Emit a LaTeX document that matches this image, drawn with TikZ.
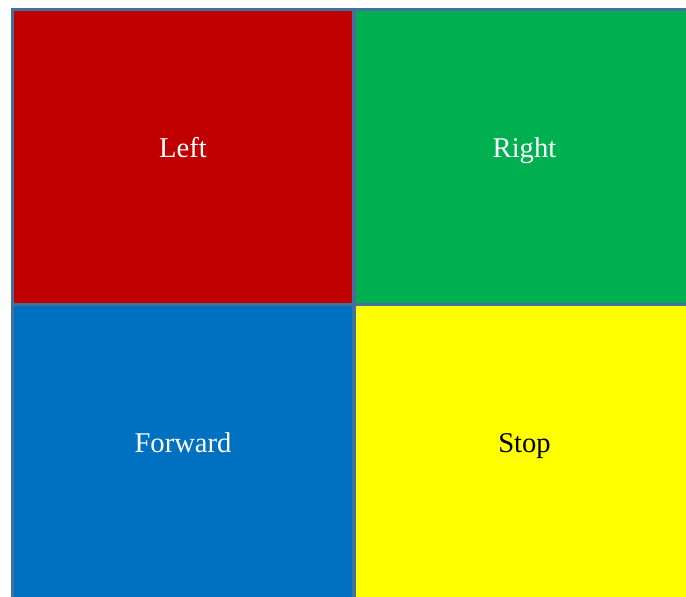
\documentclass[tikz,border=0pt]{standalone}
\usepackage{fontspec}
\setmainfont{Liberation Serif}
\usepackage{tikz}
\usetikzlibrary{positioning}
\definecolor{padred}{HTML}{C00000}
\definecolor{padgreen}{HTML}{00B050}
\definecolor{padblue}{HTML}{0070C0}
\definecolor{padyellow}{HTML}{FFFF00}
\definecolor{padedge}{HTML}{41719C}

\begin{document}
\begin{tikzpicture}[x=1pt,y=-1pt,
  cell/.style={rectangle,draw=padedge,line width=3pt,inner sep=0pt,
    minimum width=341pt,minimum height=295pt},
  lbl/.style={anchor=base,inner sep=0pt,font=\fontsize{28.6}{34}\selectfont}]
\path[use as bounding box] (0,0) rectangle (686,597);
\fill[white] (0,0) rectangle (686,597);
\clip (0,0) rectangle (686,597);
% four command pads, 2 x 2
\node[cell,fill=padred] (left) at (183,157) {};
\node[cell,fill=padgreen] (right) at (524.5,157) {};
\node[cell,fill=padblue] (forward) at (183,452) {};
\node[cell,fill=padyellow] (stop) at (524.5,452) {};
\node[lbl,text=white] (leftlbl) at (left.center) {Left};
\node[lbl,text=white] (rightlbl) at (right.center) {Right};
\node[lbl,text=white] (forwardlbl) at (forward.center) {Forward};
\node[lbl,text=black] (stoplbl) at (stop.center) {Stop};
\end{tikzpicture}
\end{document}
